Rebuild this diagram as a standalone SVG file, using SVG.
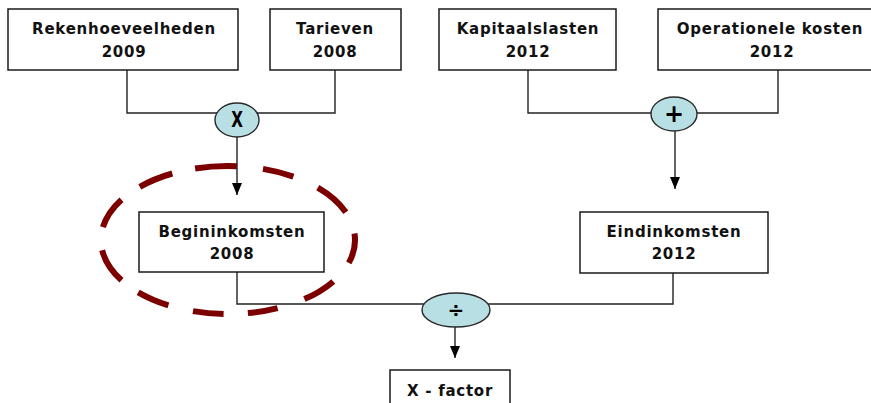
<svg xmlns="http://www.w3.org/2000/svg" width="871" height="403" viewBox="0 0 871 403">
  <style>
    .box { fill: #ffffff; stroke: #1a1a1a; stroke-width: 1.5; }
    .lbl { font-family: "DejaVu Sans", Verdana, sans-serif; font-weight: bold; font-size: 15px; letter-spacing: 0.75px; fill: #111; text-anchor: middle; }
    .op { fill: #b8dfe4; stroke: #2a2a2a; stroke-width: 1.4; }
    .sym { font-family: "DejaVu Sans", Verdana, sans-serif; font-weight: bold; fill: #000; text-anchor: middle; }
    .conn { fill: none; stroke: #222; stroke-width: 1.4; }
    .hl { fill: none; stroke: #7c0000; stroke-width: 6; }
  </style>
  <defs>
    <marker id="arrow" viewBox="0 -5 12 10" refX="12" refY="0" markerWidth="12" markerHeight="10" markerUnits="userSpaceOnUse" orient="auto">
      <path d="M0,-5 L12,0 L0,5 z" fill="#000"/>
    </marker>
  </defs>
  <rect width="871" height="403" fill="#ffffff"/>

  <!-- connectors -->
  <g id="connectors">
    <path class="conn" d="M127,70 V113 H335 V70"/>
    <path class="conn" d="M528,70 V113 H778 V70"/>
    <path class="conn" d="M237,137 V195" marker-end="url(#arrow)"/>
    <path class="conn" d="M675,131 V189" marker-end="url(#arrow)"/>
    <path class="conn" d="M237,272 V304 H673 V273"/>
    <path class="conn" d="M455,327 V358" marker-end="url(#arrow)"/>
  </g>

  <!-- input boxes -->
  <g id="rekenhoeveelheden">
    <rect class="box" x="8" y="9" width="230" height="61"/>
    <text class="lbl" x="124" y="34">Rekenhoeveelheden</text>
    <text class="lbl" x="124" y="57">2009</text>
  </g>
  <g id="tarieven">
    <rect class="box" x="270" y="9" width="131" height="61"/>
    <text class="lbl" x="335" y="34">Tarieven</text>
    <text class="lbl" x="335" y="57">2008</text>
  </g>
  <g id="kapitaalslasten">
    <rect class="box" x="439" y="9" width="177" height="61"/>
    <text class="lbl" x="528" y="34">Kapitaalslasten</text>
    <text class="lbl" x="528" y="57">2012</text>
  </g>
  <g id="operationele-kosten">
    <rect class="box" x="658" y="9" width="226" height="61"/>
    <text class="lbl" x="770" y="34">Operationele kosten</text>
    <text class="lbl" x="772" y="57">2012</text>
  </g>

  <!-- operators -->
  <g id="op-multiply">
    <ellipse class="op" cx="237" cy="120" rx="22" ry="17"/>
    <text class="sym" font-size="19" transform="translate(237,127) scale(0.8,1.08)">X</text>
  </g>
  <g id="op-add">
    <ellipse class="op" cx="674" cy="114" rx="23" ry="17"/>
    <text class="sym" x="674" y="122" font-size="24">+</text>
  </g>

  <!-- intermediate results -->
  <g id="begininkomsten">
    <rect class="box" x="139" y="212" width="185" height="60"/>
    <text class="lbl" x="232" y="237">Begininkomsten</text>
    <text class="lbl" x="232" y="259">2008</text>
  </g>
  <g id="eindinkomsten">
    <rect class="box" x="580" y="212" width="188" height="61"/>
    <text class="lbl" x="674" y="237">Eindinkomsten</text>
    <text class="lbl" x="674" y="259">2012</text>
  </g>

  <g id="op-divide">
    <ellipse class="op" cx="456" cy="310" rx="34" ry="17"/>
    <text class="sym" x="456" y="317" font-size="20">÷</text>
  </g>

  <!-- result -->
  <g id="x-factor">
    <rect class="box" x="390" y="370" width="120" height="40"/>
    <text class="lbl" x="450" y="396">X - factor</text>
  </g>

  <!-- dashed highlight ring around the starting revenue, one arc per dash -->
  <g id="highlight">
    <path class="hl" d="
      M354.5,233.5 A127,74 0 0 1 348.8,262.9
      M333.3,281.4 A127,74 0 0 1 304.4,299.1
      M277.6,308.1 A127,74 0 0 1 247.9,313.1
      M223.6,314.0 A127,74 0 0 1 193.0,311.1
      M168.4,305.3 A127,74 0 0 1 138.2,292.3
      M121.5,280.3 A127,74 0 0 1 102.2,250.3
      M102.9,227.2 A127,74 0 0 1 121.5,199.7
      M139.8,186.8 A127,74 0 0 1 172.3,173.5
      M195.1,168.5 A127,74 0 0 1 236.9,166.2
      M263.0,168.9 A127,74 0 0 1 293.4,176.6
      M317.8,187.7 A127,74 0 0 1 345.8,212.3"/>
  </g>
</svg>
